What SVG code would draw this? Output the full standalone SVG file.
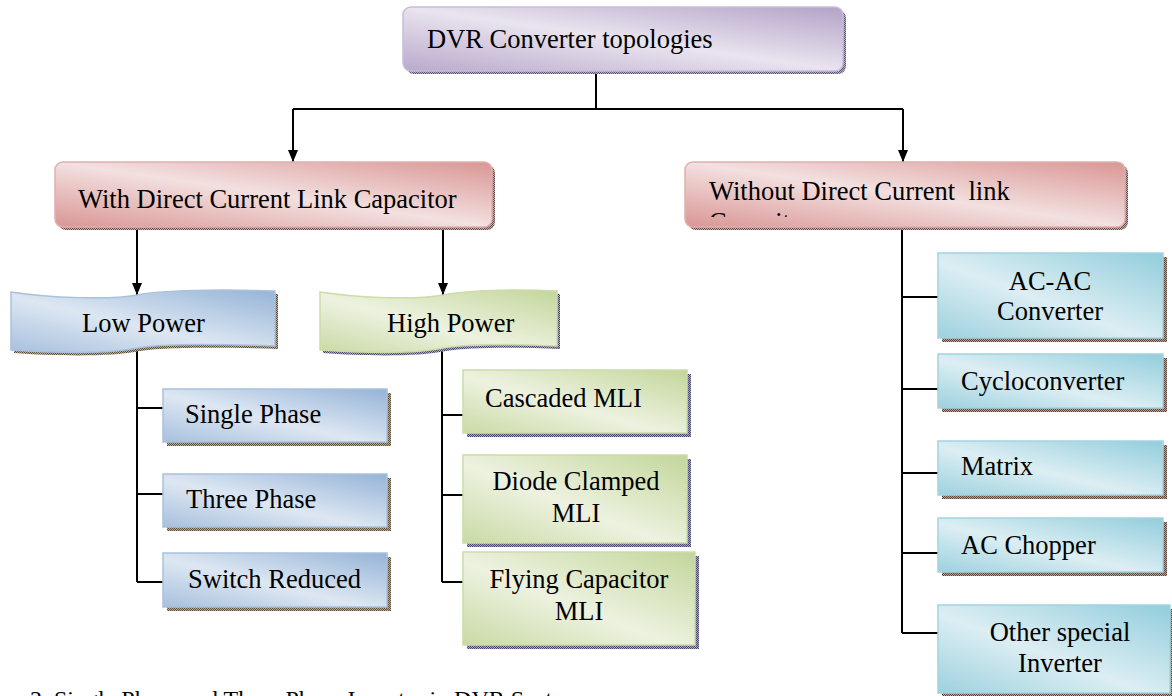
<svg xmlns="http://www.w3.org/2000/svg" width="1172" height="696" viewBox="0 0 1172 696">
<defs>
<style>
text{font-family:"Liberation Serif","Times New Roman",serif;font-size:26.5px;fill:#000}
.c{text-anchor:middle}
.ln{stroke:#000;stroke-width:2;fill:none}
.pu{fill:url(#gPu);stroke:#c9bdd8;stroke-width:1.5}
.re{fill:url(#gRe);stroke:#e0b0af;stroke-width:1.5}
.bl{fill:url(#gBl);stroke:#a9c1de;stroke-width:1.5}
.gr{fill:url(#gGr);stroke:#cbdca8;stroke-width:1.5}
.te{fill:url(#gTe);stroke:#a3d3e0;stroke-width:1.5}
.shPu{fill:url(#pPu)}
.shRe{fill:url(#pRe)}
.shBl{fill:url(#pBl)}
.shGr{fill:url(#pGr)}
.shTe{fill:url(#pTe)}
</style>
<linearGradient id="gPu" x1="1" y1="0" x2="0" y2="1"><stop offset="0" stop-color="#b3a2c7"/><stop offset="0.5" stop-color="#e9e4ef"/><stop offset="1" stop-color="#b9a9cb"/></linearGradient>
<linearGradient id="gRe" x1="1" y1="0" x2="0" y2="1"><stop offset="0" stop-color="#d99694"/><stop offset="0.5" stop-color="#f3e0e0"/><stop offset="1" stop-color="#d99694"/></linearGradient>
<linearGradient id="gBl" x1="1" y1="0" x2="0" y2="1"><stop offset="0" stop-color="#95b3d7"/><stop offset="0.55" stop-color="#dde7f2"/><stop offset="1" stop-color="#a7c0de"/></linearGradient>
<linearGradient id="gGr" x1="1" y1="0" x2="0" y2="1"><stop offset="0" stop-color="#c3d69b"/><stop offset="0.55" stop-color="#edf2e0"/><stop offset="1" stop-color="#c9daa5"/></linearGradient>
<linearGradient id="gTe" x1="1" y1="0" x2="0" y2="1"><stop offset="0" stop-color="#92cddc"/><stop offset="0.55" stop-color="#dceef3"/><stop offset="1" stop-color="#9dd1df"/></linearGradient>
<pattern id="pPu" width="2" height="2" patternUnits="userSpaceOnUse"><rect width="2" height="2" fill="#b8b0c8"/><rect width="1" height="1" fill="#5f5577"/><rect x="1" y="1" width="1" height="1" fill="#5f5577"/></pattern>
<pattern id="pRe" width="2" height="2" patternUnits="userSpaceOnUse"><rect width="2" height="2" fill="#c0a8a8"/><rect width="1" height="1" fill="#6e5050"/><rect x="1" y="1" width="1" height="1" fill="#6e5050"/></pattern>
<pattern id="pBl" width="2" height="2" patternUnits="userSpaceOnUse"><rect width="2" height="2" fill="#b8ad98"/><rect width="1" height="1" fill="#5e5038"/><rect x="1" y="1" width="1" height="1" fill="#5e5038"/></pattern>
<pattern id="pGr" width="2" height="2" patternUnits="userSpaceOnUse"><rect width="2" height="2" fill="#aaa8c4"/><rect width="1" height="1" fill="#4a4870"/><rect x="1" y="1" width="1" height="1" fill="#4a4870"/></pattern>
<pattern id="pTe" width="2" height="2" patternUnits="userSpaceOnUse"><rect width="2" height="2" fill="#b8a49a"/><rect width="1" height="1" fill="#5e4438"/><rect x="1" y="1" width="1" height="1" fill="#5e4438"/></pattern>
<marker id="ar" viewBox="0 0 12 10" refX="12" refY="5" markerWidth="12" markerHeight="10" markerUnits="userSpaceOnUse" orient="auto"><path d="M0,0 L12,5 L0,10 Z" fill="#000"/></marker>
<clipPath id="clipW"><rect x="686" y="163" width="438" height="54"/></clipPath>
</defs>

<g id="connectors">
<path class="ln" d="M596,72 V109"/>
<path class="ln" d="M293,109 H903"/>
<path class="ln" d="M293,109 V162" marker-end="url(#ar)"/>
<path class="ln" d="M903,109 V162" marker-end="url(#ar)"/>
<path class="ln" d="M137,227 V295" marker-end="url(#ar)"/>
<path class="ln" d="M443,227 V295" marker-end="url(#ar)"/>
<path class="ln" d="M137,348 V582 M137,408 H163 M137,494 H163 M137,582 H163"/>
<path class="ln" d="M442,348 V582 M442,415 H463 M442,495 H463 M442,582 H463"/>
<path class="ln" d="M902,227 V633 M902,297 H938 M902,389 H938 M902,473 H938 M902,553 H938 M902,633 H938"/>
</g>

<g id="root">
<rect class="shPu" x="406" y="10" width="440" height="64" rx="8"/>
<rect class="pu" x="403" y="7" width="440" height="64" rx="8"/>
<text x="427" y="48">DVR Converter topologies</text>
</g>

<g id="with-dc">
<rect class="shRe" x="58" y="165" width="437" height="65" rx="8"/>
<rect class="re" x="55" y="162" width="437" height="65" rx="8"/>
<text x="78" y="208">With Direct Current Link Capacitor</text>
</g>

<g id="without-dc">
<rect class="shRe" x="688" y="165" width="440" height="65" rx="8"/>
<rect class="re" x="685" y="162" width="440" height="65" rx="8"/>
<text x="709" y="200" style="white-space:pre">Without Direct Current  link</text>
<text x="709" y="231" clip-path="url(#clipW)">Capacitor</text>
</g>

<g id="low-power">
<path class="shBl" transform="translate(3,3)" d="M11,292 C50,298 110,300 137,295 C160,290 220,289 275,291 L275,346 C220,344 160,344 137,348 C110,354 50,353 11,350 Z"/>
<path class="bl" d="M11,292 C50,298 110,300 137,295 C160,290 220,289 275,291 L275,346 C220,344 160,344 137,348 C110,354 50,353 11,350 Z"/>
<text x="82" y="332">Low Power</text>
</g>

<g id="high-power">
<path class="shGr" transform="translate(3,3)" d="M320,292 C360,298 415,300 443,295 C466,290 515,289 557,291 L557,346 C515,344 466,344 443,348 C415,354 360,353 320,350 Z"/>
<path class="gr" d="M320,292 C360,298 415,300 443,295 C466,290 515,289 557,291 L557,346 C515,344 466,344 443,348 C415,354 360,353 320,350 Z"/>
<text x="387" y="332">High Power</text>
</g>

<g id="single-phase">
<rect class="shBl" x="167" y="393" width="224" height="53"/>
<rect class="bl" x="163" y="389" width="224" height="53"/>
<text x="185" y="423">Single Phase</text>
</g>
<g id="three-phase">
<rect class="shBl" x="167" y="478" width="224" height="53"/>
<rect class="bl" x="163" y="474" width="224" height="53"/>
<text x="186" y="508">Three Phase</text>
</g>
<g id="switch-reduced">
<rect class="shBl" x="167" y="557" width="224" height="54"/>
<rect class="bl" x="163" y="553" width="224" height="54"/>
<text x="188" y="588">Switch Reduced</text>
</g>

<g id="cascaded-mli">
<rect class="shGr" x="467" y="374" width="224" height="63"/>
<rect class="gr" x="463" y="370" width="224" height="63"/>
<text x="485" y="407">Cascaded MLI</text>
</g>
<g id="diode-clamped-mli">
<rect class="shGr" x="467" y="459" width="224" height="88"/>
<rect class="gr" x="463" y="455" width="224" height="88"/>
<text class="c" x="576" y="490">Diode Clamped</text>
<text class="c" x="576" y="522">MLI</text>
</g>
<g id="flying-capacitor-mli">
<rect class="shGr" x="467" y="556" width="232" height="93"/>
<rect class="gr" x="463" y="552" width="232" height="93"/>
<text class="c" x="579" y="588">Flying Capacitor</text>
<text class="c" x="579" y="620">MLI</text>
</g>

<g id="ac-ac-converter">
<rect class="shTe" x="942" y="257" width="225" height="85"/>
<rect class="te" x="938" y="253" width="225" height="85"/>
<text class="c" x="1050" y="290">AC-AC</text>
<text class="c" x="1050" y="320">Converter</text>
</g>
<g id="cycloconverter">
<rect class="shTe" x="942" y="358" width="225" height="54"/>
<rect class="te" x="938" y="354" width="225" height="54"/>
<text x="961" y="390">Cycloconverter</text>
</g>
<g id="matrix">
<rect class="shTe" x="942" y="445" width="225" height="54"/>
<rect class="te" x="938" y="441" width="225" height="54"/>
<text x="961" y="475">Matrix</text>
</g>
<g id="ac-chopper">
<rect class="shTe" x="942" y="522" width="225" height="54"/>
<rect class="te" x="938" y="518" width="225" height="54"/>
<text x="961" y="554">AC Chopper</text>
</g>
<g id="other-special-inverter">
<rect class="shTe" x="942" y="609" width="232" height="88"/>
<rect class="te" x="938" y="605" width="232" height="88"/>
<text class="c" x="1060" y="641">Other special</text>
<text class="c" x="1060" y="672">Inverter</text>
</g>

<g id="caption">
<text x="30" y="707" style="font-size:24px">2. Single Phase and Three Phase Inverter in DVR Systems</text>
</g>
</svg>
